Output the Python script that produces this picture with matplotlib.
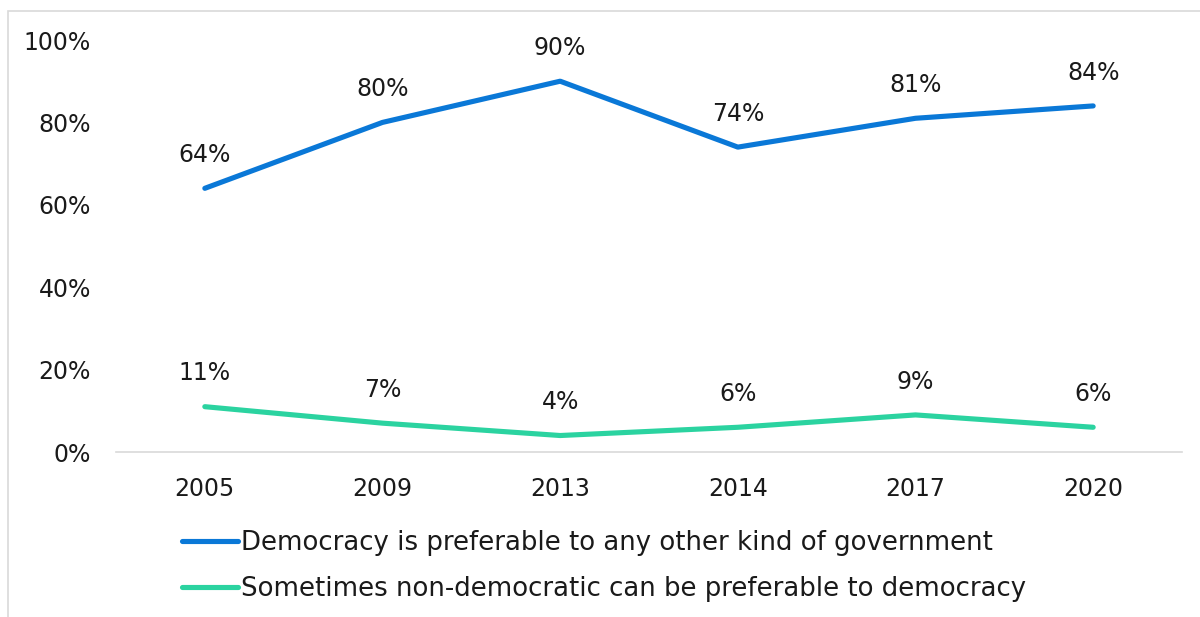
import matplotlib.pyplot as plt
from matplotlib.patches import Rectangle

plt.rcParams['font.family'] = ['DejaVu Sans']

years = ['2005', '2009', '2013', '2014', '2017', '2020']
democracy_pref = [64, 80, 90, 74, 81, 84]
non_democratic = [11, 7, 4, 6, 9, 6]
series_names = ['Democracy is preferable to any other kind of government',
                'Sometimes non-democratic can be preferable to democracy']
yticks = [0, 20, 40, 60, 80, 100]

blue = '#0A78D7'
green = '#2BD3A0'

fig = plt.figure(figsize=(12, 6.17), dpi=100, facecolor='white')
ax = fig.add_axes([116/1200, 1-452/617, (1182-116)/1200, (452-40)/617])

# light chart frame, like the excel chart area border
fig.patches.append(Rectangle((8/1200, -0.1), 1.2, 1-11/617+0.1, transform=fig.transFigure,
                             fill=False, edgecolor='#D9D9D9', linewidth=1.2))

x = range(len(years))
for vals, col, name in [(democracy_pref, blue, series_names[0]), (non_democratic, green, series_names[1])]:
    ax.plot(x, vals, color=col, lw=3.7, solid_capstyle='round', solid_joinstyle='round', label=name)
    for i, v in enumerate(vals):
        ax.annotate(f'{v}%', (i, v), xytext=(0, 24), textcoords='offset points',
                    ha='center', va='center', fontsize=17, color='#1a1a1a')

ax.set_xlim(-0.5, len(years)-0.5)
ax.set_ylim(0, 100)
ax.set_xticks(list(x))
ax.set_xticklabels(years)
ax.set_yticks(yticks)
ax.set_yticklabels([f'{t}%' for t in yticks])
ax.tick_params(length=0, labelsize=17, colors='#1a1a1a')
ax.tick_params(axis='y', pad=18)
ax.tick_params(axis='x', pad=18)
for s in ['top', 'right', 'left']:
    ax.spines[s].set_visible(False)
ax.spines['bottom'].set_color('#D9D9D9')
ax.spines['bottom'].set_linewidth(1.2)
ax.patch.set_alpha(0)

fig.legend(loc='center', bbox_to_anchor=(604/1200, 1-566/617), ncol=1, frameon=False,
           fontsize=18.7, handlelength=2.15, handletextpad=0.12, labelspacing=0.78,
           labelcolor='#1a1a1a')

fig.savefig('out.png', dpi=100, facecolor='white')
